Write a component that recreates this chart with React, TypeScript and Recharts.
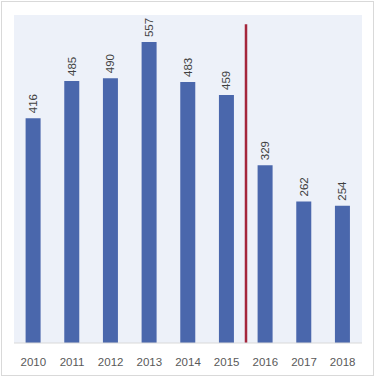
import { Bar, BarChart, LabelList, ReferenceArea, ReferenceLine, XAxis, YAxis } from 'recharts';

const years = ['2010', '2011', '2012', '2013', '2014', '2015', '2016', '2017', '2018'];
const values = [416, 485, 490, 557, 483, 459, 329, 262, 254];

const data = years.map((year, i) => ({ year, value: values[i] }));

const renderLabel = (props: any) => {
  const { x, y, width, value } = props;
  const cx = Number(x) + Number(width) / 2;
  const cy = Number(y) - 5;
  return (
    <text
      x={cx}
      y={cy}
      transform={`rotate(-90 ${cx} ${cy})`}
      textAnchor='start'
      dominantBaseline='central'
      fill='#404040'
      fontSize={11.5}
      fontFamily='Liberation Sans, Arial, sans-serif'
    >
      {value}
    </text>
  );
};

export default function App() {
  return (
    <div
      style={{
        position: 'absolute',
        left: 0,
        top: 0,
        width: 376,
        height: 376,
        background: '#fff',
      }}
    >
      <div
        style={{
          position: 'absolute',
          left: 1,
          top: 1,
          width: 371,
          height: 373,
          border: '1px solid #D9D9D9',
        }}
      />
      <BarChart
        width={376}
        height={376}
        data={data}
        margin={{ top: 15, right: 14, bottom: 0, left: 14 }}
        barCategoryGap='30%'
      >
        <XAxis
          dataKey='year'
          height={33}
          tickLine={false}
          axisLine={{ stroke: '#D9D9D9' }}
          tick={{ fill: '#595959', fontSize: 11.5, fontFamily: 'Liberation Sans, Arial, sans-serif' }}
          tickMargin={9}
          interval={0}
        />
        <YAxis hide domain={[0, 607]} />
        <ReferenceArea y1={0} y2={607} fill='#EDF1F9' fillOpacity={1} stroke='none' />
        <Bar dataKey='value' fill='#4A67AC' isAnimationActive={false}>
          <LabelList dataKey='value' content={renderLabel} />
        </Bar>
        <ReferenceLine
          segment={[
            { x: '2015', y: 590 },
            { x: '2015', y: 0 },
          ]}
          position='end'
          stroke='#A4263C'
          strokeWidth={2.5}
        />
      </BarChart>
    </div>
  );
}
